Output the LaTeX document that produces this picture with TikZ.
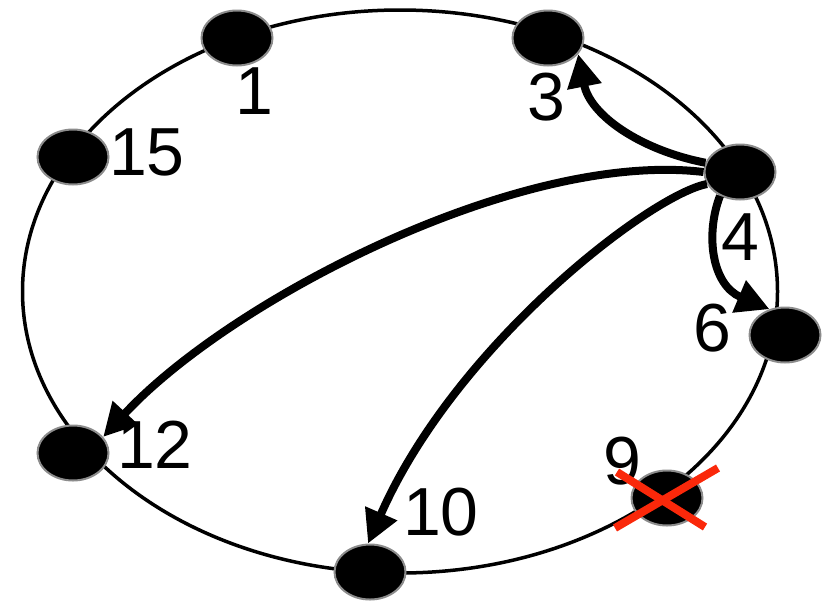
\documentclass[tikz,border=0pt]{standalone}
\usepackage{fontspec}
\setmainfont{Liberation Sans}
\usetikzlibrary{arrows.meta,shapes.geometric}
\definecolor{xred}{RGB}{250,40,10}
\begin{document}
\begin{tikzpicture}[x=1pt,y=-1pt,
  peer/.style={ellipse, fill=black, draw=black!45, line width=2pt, minimum width=71pt, minimum height=55pt, inner sep=0pt},
  lbl/.style={inner sep=0pt, font=\fontsize{68}{68}\selectfont},
  ring/.style={line width=3.5pt},
  finger/.style={line width=8pt, -{Triangle[length=33pt,width=33pt]}},
  cross/.style={line width=8pt, draw=xred}]
\useasboundingbox (0,0) rectangle (832,600);
\draw[ring] (400,291.5) ellipse [x radius=377.5, y radius=281.5];
\node[peer] (n1) at (237,38) {};
\node[peer] (n3) at (548,38) {};
\node[peer] (n15) at (73,157) {};
\node[peer] (n4) at (740,172) {};
\node[peer] (n6) at (785,335) {};
\node[peer] (n9) at (667,498) {};
\node[peer] (n10) at (370,572) {};
\node[peer] (n12) at (73,453) {};
\draw[finger] (n4.165) .. controls (640,150) and (590,115) .. (n3.-28);
\draw[finger] (n4.230) .. controls (705,235) and (712,285) .. (n6.121);
\draw[finger] (n4.180) .. controls (520,150) and (230,300) .. (n12.28);
\draw[finger] (n4.200) .. controls (650,195) and (455,345) .. (n10.94);
\node[lbl] (l1) at (254,91) {1};
\node[lbl] (l3) at (546,97) {3};
\node[lbl] (l15) at (147,152) {15};
\node[lbl] (l4) at (740,237) {4};
\node[lbl] (l6) at (712,328) {6};
\node[lbl] (l12) at (155,445) {12};
\node[lbl] (l10) at (441,512) {10};
\node[lbl] (l9) at (622,461) {9};
\draw[cross] (615,528) -- (718,468);
\draw[cross] (617,472) -- (705,527);
\end{tikzpicture}
\end{document}
